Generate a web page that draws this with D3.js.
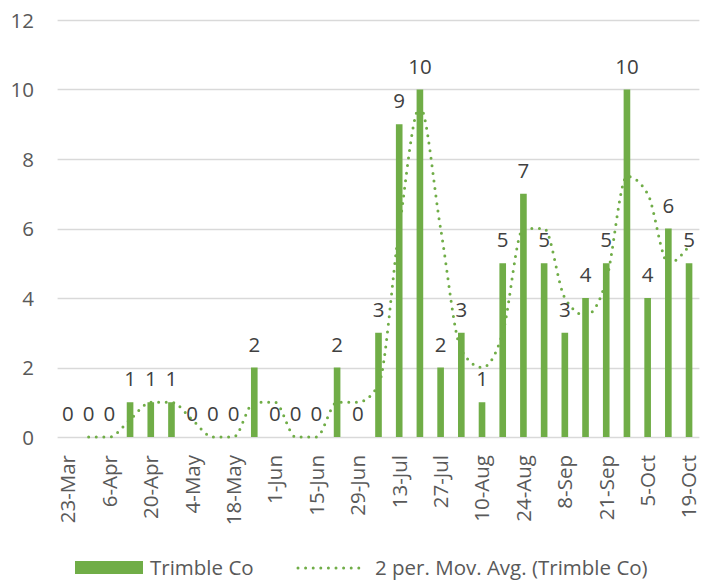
<!DOCTYPE html>
<html>
<head>
<meta charset="utf-8">
<script src="https://cdn.jsdelivr.net/npm/d3@7"></script>
<style>
  html, body { margin: 0; padding: 0; background: #fff; }
  svg { display: block; font-family: "Open Sans", sans-serif; }
</style>
</head>
<body>
<svg id="chart" width="718" height="582"></svg>
<script>
const categories = ["23-Mar","30-Mar","6-Apr","13-Apr","20-Apr","27-Apr","4-May","11-May","18-May","25-May","1-Jun","8-Jun","15-Jun","22-Jun","29-Jun","6-Jul","13-Jul","20-Jul","27-Jul","3-Aug","10-Aug","17-Aug","24-Aug","31-Aug","8-Sep","14-Sep","21-Sep","28-Sep","5-Oct","12-Oct","19-Oct"];
const tickLabels = ["23-Mar","6-Apr","20-Apr","4-May","18-May","1-Jun","15-Jun","29-Jun","13-Jul","27-Jul","10-Aug","24-Aug","8-Sep","21-Sep","5-Oct","19-Oct"];
const values = [0,0,0,1,1,1,0,0,0,2,0,0,0,2,0,3,9,10,2,3,1,5,7,5,3,4,5,10,4,6,5];
// 2-period moving average trendline (starts at the 2nd category)
const movAvg = [null,0,0,0.5,1,1,0.5,0,0,1,1,0,0,1,1,1.5,6,9.5,6,2.5,2,3,6,6,4,3.5,4.5,7.5,7,5,5.5];
const yTicks = [0,2,4,6,8,10,12];
const seriesName = "Trimble Co";
const trendName = "2 per. Mov. Avg. (Trimble Co)";

const green = "#70AD47";
const svg = d3.select("#chart");

const x = d3.scaleBand().domain(categories).range([57.6, 699.4]).paddingInner(0.68).paddingOuter(0.34);
const y = d3.scaleLinear().domain([0, 12]).range([437, 20]);

// gridlines
svg.append("g").selectAll("line").data(yTicks).join("line")
  .attr("x1", 57.6).attr("x2", 699.4)
  .attr("y1", d => Math.round(y(d)) + 0.5).attr("y2", d => Math.round(y(d)) + 0.5)
  .attr("stroke", "#d9d9d9").attr("stroke-width", 1.3);

// y axis labels
const yAxis = d3.axisLeft(y).tickValues(yTicks).tickSize(0).tickPadding(0);
const gy = svg.append("g").attr("transform", "translate(34,0)").call(yAxis);
gy.select(".domain").remove();
gy.selectAll("text").attr("font-size", 20.5).attr("fill", "#595959")
  .attr("font-family", "Open Sans, sans-serif").attr("dy", "0.35em");

// bars
svg.append("g").selectAll("rect").data(values).join("rect")
  .attr("x", (d, i) => x(categories[i]))
  .attr("width", x.bandwidth())
  .attr("y", d => y(d))
  .attr("height", d => y(0) - y(d))
  .attr("fill", green);

// x axis labels
const xAxis = d3.axisBottom(x).tickValues(tickLabels).tickSize(0).tickPadding(0);
const gx = svg.append("g").attr("transform", "translate(0,455)").call(xAxis);
gx.select(".domain").remove();
gx.selectAll("text")
  .attr("font-size", 20.5).attr("fill", "#595959").attr("font-family", "Open Sans, sans-serif")
  .attr("transform", "rotate(-90)")
  .attr("text-anchor", "end")
  .attr("x", 0).attr("y", 0).attr("dy", "0.36em");

// trendline
const line = d3.line()
  .defined(d => d.v !== null)
  .x(d => x(d.c) + x.bandwidth() / 2)
  .y(d => y(d.v))
  .curve(d3.curveMonotoneX);
svg.append("path")
  .datum(categories.map((c, i) => ({ c, v: movAvg[i] })))
  .attr("d", line)
  .attr("fill", "none")
  .attr("stroke", green)
  .attr("stroke-width", 3)
  .attr("stroke-linecap", "round")
  .attr("stroke-dasharray", "0,7.6");

// data labels
svg.append("g").selectAll("text").data(values).join("text")
  .attr("x", (d, i) => x(categories[i]) + x.bandwidth() / 2)
  .attr("y", d => y(d) - 16)
  .attr("text-anchor", "middle")
  .attr("font-size", 20.5)
  .attr("fill", "#404040")
  .text(d => d);

// legend
const lg = svg.append("g");
lg.append("rect").attr("x", 75).attr("y", 561).attr("width", 68).attr("height", 13).attr("fill", green);
lg.append("text").attr("x", 150).attr("y", 575).attr("font-size", 20.5).attr("fill", "#595959").text(seriesName);
lg.append("line").attr("x1", 298).attr("x2", 366).attr("y1", 568).attr("y2", 568)
  .attr("stroke", green).attr("stroke-width", 3).attr("stroke-linecap", "round").attr("stroke-dasharray", "0,7.6");
lg.append("text").attr("x", 375).attr("y", 575).attr("font-size", 20.5).attr("fill", "#595959").text(trendName);
</script>
</body>
</html>
